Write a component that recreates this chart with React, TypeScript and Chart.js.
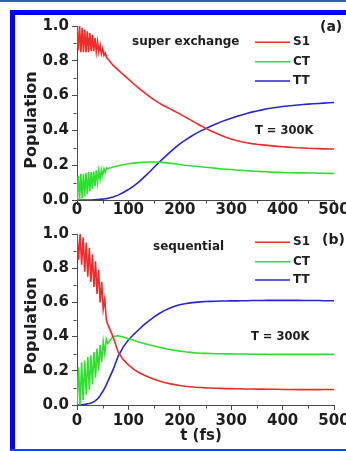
import React, { useEffect, useRef } from "react";
import { Chart, registerables } from "chart.js";
Chart.register(...registerables);

const FONT = "'DejaVu Sans', sans-serif";
const TEXT = "#1e1e1e";
const AXIS = "#4a4a4a";

const seriesNames = ["S1", "CT", "TT"];
const seriesColors = ["#f22a2a", "#2ee02e", "#2626d2"];
const yMinor = [0.1, 0.3, 0.5, 0.7, 0.9];
const xMinor = [50, 150, 250, 350, 450];

// Panel (a): super exchange
const tA = [0, 2.5, 5, 7.5, 10, 12.5, 15, 17.5, 20, 22.5, 25, 27.5, 30, 32.5, 35, 37.5, 40, 42.5, 45, 47.5, 50, 52.5, 55, 57.5, 60,
  70, 80, 90, 100, 110, 120, 130, 140, 150, 160, 170, 180, 190, 200, 210, 220, 230, 240, 250, 260, 270, 280, 290, 300, 310, 320, 330, 340, 350, 360, 370, 380, 390, 400, 410, 420, 430, 440, 450, 460, 470, 480, 490, 500];
const s1A = [1.0, 0.86, 1.0, 0.85, 0.99, 0.85, 0.98, 0.85, 0.97, 0.85, 0.96, 0.855, 0.95, 0.855, 0.93, 0.85, 0.91, 0.85, 0.89, 0.84, 0.87, 0.83, 0.845, 0.82, 0.81,
  0.775, 0.748, 0.72, 0.695, 0.668, 0.643, 0.62, 0.597, 0.575, 0.557, 0.54, 0.525, 0.51, 0.495, 0.478, 0.462, 0.445, 0.428, 0.413, 0.398, 0.385, 0.372, 0.36, 0.35, 0.342, 0.335, 0.329, 0.324, 0.32, 0.317, 0.314, 0.311, 0.308, 0.306, 0.304, 0.302, 0.3, 0.299, 0.297, 0.296, 0.295, 0.294, 0.293, 0.293];
const ctA = [0, 0.14, 0, 0.15, 0.01, 0.15, 0.02, 0.155, 0.035, 0.16, 0.05, 0.16, 0.065, 0.165, 0.08, 0.17, 0.1, 0.17, 0.12, 0.175, 0.14, 0.18, 0.16, 0.185, 0.18,
  0.19, 0.197, 0.203, 0.208, 0.212, 0.215, 0.217, 0.218, 0.218, 0.217, 0.215, 0.212, 0.208, 0.204, 0.2, 0.197, 0.194, 0.191, 0.188, 0.185, 0.182, 0.179, 0.177, 0.175, 0.172, 0.17, 0.168, 0.166, 0.165, 0.163, 0.162, 0.16, 0.159, 0.158, 0.157, 0.157, 0.156, 0.156, 0.155, 0.155, 0.154, 0.154, 0.153, 0.152];
const ttA = [0, 0, 0, 0, 0, 0, 0, 0, 0, 0, 0, 0, 0, 0.001, 0.001, 0.002, 0.002, 0.003, 0.004, 0.005, 0.005, 0.006, 0.007, 0.008, 0.01,
  0.017, 0.028, 0.043, 0.06, 0.08, 0.103, 0.13, 0.158, 0.188, 0.218, 0.245, 0.272, 0.298, 0.322, 0.343, 0.362, 0.38, 0.396, 0.41, 0.424, 0.437, 0.449, 0.46, 0.47, 0.48, 0.489, 0.497, 0.505, 0.512, 0.518, 0.524, 0.529, 0.533, 0.537, 0.54, 0.543, 0.546, 0.549, 0.551, 0.553, 0.555, 0.557, 0.559, 0.56];

// Panel (b): sequential
const tB = [0, 3, 6, 9, 12, 15, 18, 21, 24, 27, 30, 33, 36, 39, 42, 45, 48, 51, 54, 57, 60,
  70, 80, 90, 100, 110, 120, 130, 140, 150, 160, 170, 180, 190, 200, 210, 220, 230, 240, 250, 260, 270, 280, 290, 300, 310, 320, 330, 340, 350, 360, 370, 380, 390, 400, 410, 420, 430, 440, 450, 460, 470, 480, 490, 500];
const s1B = [1.0, 0.85, 1.0, 0.82, 0.98, 0.78, 0.95, 0.75, 0.92, 0.72, 0.88, 0.69, 0.84, 0.65, 0.79, 0.6, 0.72, 0.56, 0.62, 0.5, 0.47,
  0.4, 0.31, 0.265, 0.235, 0.21, 0.19, 0.175, 0.162, 0.15, 0.14, 0.132, 0.125, 0.119, 0.114, 0.11, 0.107, 0.104, 0.102, 0.1, 0.099, 0.098, 0.097, 0.096, 0.096, 0.095, 0.095, 0.094, 0.094, 0.093, 0.093, 0.092, 0.092, 0.092, 0.091, 0.091, 0.091, 0.09, 0.09, 0.09, 0.09, 0.09, 0.091, 0.091, 0.091];
const ctB = [0, 0.22, 0, 0.25, 0.03, 0.26, 0.06, 0.28, 0.09, 0.29, 0.12, 0.31, 0.16, 0.33, 0.2, 0.35, 0.25, 0.37, 0.3, 0.385, 0.36,
  0.4, 0.405, 0.398, 0.388, 0.378, 0.368, 0.36, 0.352, 0.345, 0.338, 0.331, 0.325, 0.32, 0.315, 0.311, 0.308, 0.305, 0.303, 0.302, 0.301, 0.3, 0.3, 0.299, 0.299, 0.298, 0.298, 0.298, 0.297, 0.297, 0.297, 0.297, 0.296, 0.296, 0.296, 0.296, 0.296, 0.296, 0.296, 0.296, 0.296, 0.296, 0.296, 0.296, 0.296];
const ttB = [0, 0, 0, 0.001, 0.002, 0.003, 0.005, 0.007, 0.009, 0.012, 0.015, 0.02, 0.026, 0.033, 0.042, 0.055, 0.07, 0.083, 0.1, 0.118, 0.138,
  0.205, 0.285, 0.34, 0.38, 0.412, 0.44, 0.468, 0.492, 0.515, 0.535, 0.552, 0.566, 0.577, 0.586, 0.592, 0.597, 0.6, 0.603, 0.605, 0.606, 0.607, 0.608, 0.608, 0.609, 0.609, 0.61, 0.61, 0.611, 0.611, 0.611, 0.612, 0.612, 0.612, 0.612, 0.612, 0.612, 0.612, 0.611, 0.611, 0.611, 0.611, 0.61, 0.61, 0.61];

type TextItem = {
  text: string; x: number; y: number; size: number;
  align?: CanvasTextAlign; baseline?: CanvasTextBaseline; rotate?: boolean;
};

type PanelCfg = {
  time: number[];
  series: number[][];
  height: number;
  padTop: number;
  xAxisH: number;
  xTickPad: number;
  legendY: number[];
  texts: TextItem[];
};

const CANVAS_W = 370;

function Panel({ cfg, top }: { cfg: PanelCfg; top: number }) {
  const ref = useRef<HTMLCanvasElement>(null);
  useEffect(() => {
    const overlay = {
      id: "overlay",
      afterDraw(chart: any) {
        const ctx: CanvasRenderingContext2D = chart.ctx;
        const xs = chart.scales.x;
        const ys = chart.scales.y;
        ctx.save();
        ctx.strokeStyle = AXIS;
        ctx.lineWidth = 1;
        const left = Math.round(chart.chartArea.left) - 0.5;
        const bottom = Math.round(chart.chartArea.bottom) + 0.5;
        for (const v of yMinor) {
          const py = Math.round(ys.getPixelForValue(v)) + 0.5;
          ctx.beginPath();
          ctx.moveTo(left - 3, py);
          ctx.lineTo(left, py);
          ctx.stroke();
        }
        for (const v of xMinor) {
          const px = Math.round(xs.getPixelForValue(v)) + 0.5;
          ctx.beginPath();
          ctx.moveTo(px, bottom);
          ctx.lineTo(px, bottom + 3);
          ctx.stroke();
        }
        chart.data.datasets.forEach((ds: any, i: number) => {
          const y = cfg.legendY[i];
          ctx.strokeStyle = ds.borderColor;
          ctx.lineWidth = 1.6;
          ctx.beginPath();
          ctx.moveTo(255, y);
          ctx.lineTo(290, y);
          ctx.stroke();
          ctx.fillStyle = TEXT;
          ctx.font = `bold 12px ${FONT}`;
          ctx.textAlign = "left";
          ctx.textBaseline = "middle";
          ctx.fillText(ds.label, 293, y);
        });
        for (const t of cfg.texts) {
          ctx.save();
          ctx.fillStyle = TEXT;
          ctx.font = `bold ${t.size}px ${FONT}`;
          ctx.textAlign = t.align || "left";
          ctx.textBaseline = t.baseline || "middle";
          if (t.rotate) {
            ctx.translate(t.x, t.y);
            ctx.rotate(-Math.PI / 2);
            ctx.fillText(t.text, 0, 0);
          } else {
            ctx.fillText(t.text, t.x, t.y);
          }
          ctx.restore();
        }
        ctx.restore();
      },
    };

    const tickFont = { family: FONT, size: 15, weight: "bold" as const };
    const chart = new Chart(ref.current!, {
      type: "line",
      data: {
        datasets: cfg.series.map((vals, i) => ({
          label: seriesNames[i],
          data: cfg.time.map((t, j) => ({ x: t, y: vals[j] })),
          borderColor: seriesColors[i],
          backgroundColor: seriesColors[i],
          borderWidth: 1.6,
          pointRadius: 0,
          tension: 0,
          fill: false,
        })),
      },
      options: {
        animation: false,
        responsive: false,
        maintainAspectRatio: false,
        layout: { padding: { left: 0, right: CANVAS_W - 334, top: cfg.padTop, bottom: 0 } },
        plugins: { legend: { display: false }, tooltip: { enabled: false } },
        scales: {
          x: {
            type: "linear",
            min: 0,
            max: 500,
            ticks: { stepSize: 100, font: tickFont, color: TEXT, padding: cfg.xTickPad, maxRotation: 0, autoSkip: false },
            grid: { drawOnChartArea: false, drawTicks: true, tickLength: 5, color: AXIS },
            border: { color: AXIS, width: 1 },
            afterFit: (s: any) => { s.height = cfg.xAxisH; },
          },
          y: {
            min: 0,
            max: 1,
            ticks: {
              stepSize: 0.2,
              font: tickFont,
              color: TEXT,
              padding: 3,
              callback: (v: any) => Number(v).toFixed(1),
            },
            grid: { drawOnChartArea: false, drawTicks: true, tickLength: 5, color: AXIS },
            border: { color: AXIS, width: 1 },
            afterFit: (s: any) => { s.width = 77; },
          },
        },
      },
      plugins: [overlay],
    } as any);
    return () => chart.destroy();
  }, []);
  return (
    <canvas
      ref={ref}
      width={CANVAS_W}
      height={cfg.height}
      style={{ position: "absolute", left: 0, top, width: CANVAS_W, height: cfg.height }}
    />
  );
}

const panelA: PanelCfg = {
  time: tA,
  series: [s1A, ctA, ttA],
  height: 222,
  padTop: 26,
  xAxisH: 22,
  xTickPad: -4,
  legendY: [42.3, 61.7, 81],
  texts: [
    { text: "super exchange", x: 132, y: 41.5, size: 12 },
    { text: "(a)", x: 320, y: 27, size: 14 },
    { text: "T = 300K", x: 255, y: 131, size: 11.5 },
    { text: "Population", x: 32, y: 120, size: 16, align: "center", rotate: true },
  ],
};

const panelB: PanelCfg = {
  time: tB,
  series: [s1B, ctB, ttB],
  height: 229,
  padTop: 9.7,
  xAxisH: 46,
  xTickPad: 2,
  legendY: [20.3, 39.7, 58],
  texts: [
    { text: "sequential", x: 153, y: 24.5, size: 12 },
    { text: "(b)", x: 322, y: 18.7, size: 14 },
    { text: "T = 300K", x: 251, y: 115.3, size: 11.5 },
    { text: "Population", x: 32, y: 104, size: 16, align: "center", rotate: true },
    { text: "t (fs)", x: 201, y: 218, size: 15, align: "center", baseline: "alphabetic" },
  ],
};

export default function App() {
  return (
    <div style={{ position: "absolute", left: 0, top: 0, width: 346, height: 451, overflow: "hidden", background: "#fff" }}>
      <div style={{ position: "absolute", left: 0, top: 0, width: 346, height: 2, background: "#2f62a3" }} />
      <div style={{ position: "absolute", left: 10, top: 10, width: 336, height: 5, background: "#0000ff" }} />
      <div style={{ position: "absolute", left: 10, top: 10, width: 5, height: 441, background: "#0000ff" }} />
      <div style={{ position: "absolute", left: 10, top: 449, width: 336, height: 2, background: "#1c3cff" }} />
      <Panel cfg={panelA} top={0} />
      <Panel cfg={panelB} top={222} />
    </div>
  );
}
